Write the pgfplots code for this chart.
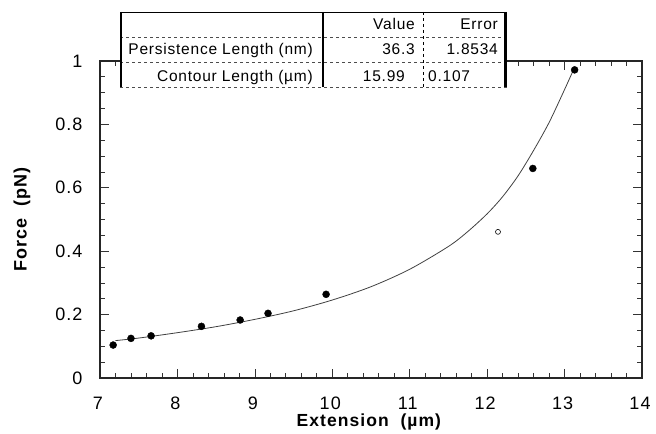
\documentclass[border=0pt]{standalone}
\usepackage{pgfplots}
\pgfplotsset{compat=1.18}
\usepackage{fontspec}
\setmainfont{Liberation Sans}
\begin{document}
\begin{tikzpicture}[x=1pt,y=1pt]
\begin{axis}[
    name=ax, at={(0,0)}, anchor=south west,
    scale only axis, width=542pt, height=317pt,
    xmin=7, xmax=14, ymin=0, ymax=1,
    xtick={7,...,14}, ytick={0,0.2,0.4,0.6,0.8,1},
    minor x tick num=4, minor y tick num=3,
    tick align=inside, major tick length=9pt, minor tick length=5pt,
    axis line style={line width=1.1pt, black!85},
    every tick/.style={black!80, line width=0.7pt},
    /pgf/number format/assume math mode=true,
    ticklabel style={font=\fontsize{18}{18}\selectfont\addfontfeature{LetterSpace=6}},
    xticklabel style={anchor=center, yshift=-25pt, xshift=-2pt},
    yticklabel style={anchor=east, xshift=-14pt},
    xlabel={Extension \ (µm)},
    xlabel style={at={(axis description cs:0.496,-0.139)}, anchor=center,
        font=\fontsize{17.5}{17.5}\selectfont\bfseries\addfontfeature{LetterSpace=6}},
    ylabel={Force \ (pN)},
    ylabel style={at={(axis description cs:-0.144,0.5)}, anchor=center,
        font=\fontsize{18}{18}\selectfont\bfseries\addfontfeature{LetterSpace=6}},
    clip=false,
]
% fitted curve
\addplot[smooth, black!75, line width=0.8pt] coordinates {
    (7.2,0.118) (7.5,0.126) (8.0,0.143) (8.5,0.162) (9.0,0.185)
    (9.5,0.212) (10.0,0.246) (10.5,0.288) (11.0,0.343) (11.5,0.415)
    (11.75,0.462) (12.0,0.518) (12.2,0.572) (12.4,0.638) (12.6,0.718)
    (12.8,0.806) (13.0,0.910) (13.12,0.975)
};
% measured points
\addplot[only marks, mark=*, mark size=3.5pt, black] coordinates {
    (7.17,0.104) (7.40,0.125) (7.66,0.133) (8.31,0.163) (8.81,0.183)
    (9.17,0.204) (9.92,0.264) (12.59,0.661) (13.13,0.972)
};
% excluded point
\addplot[only marks, mark=o, mark size=2.5pt, black, line width=0.6pt] coordinates {
    (12.14,0.461)
};
\end{axis}
% parameter table
\begin{scope}[shift={(ax.north west)}, font=\fontsize{15.5}{15.5}\selectfont\addfontfeature{LetterSpace=5}]
  \fill[white] (20,-26) rectangle (407,49);
  \draw[line width=0.8pt] (20,49) -- (407,49);
  \draw[dashed, black!70, line width=0.6pt] (20,24) -- (407,24);
  \draw[dashed, black!70, line width=0.6pt] (20,-1) -- (407,-1);
  \draw[dashed, black!70, line width=0.6pt] (20,-26) -- (407,-26);
  \draw[line width=2.5pt] (21,49) -- (21,-26);
  \draw[line width=3pt] (405,49) -- (405,-26);
  \draw[line width=2pt] (223,49) -- (223,-26);
  \draw[dashed, line width=0.7pt] (323,49) -- (323,-26);
  \node[anchor=base east, inner sep=0] at (315,31.7) {Value};
  \node[anchor=base east, inner sep=0] at (398,31.7) {Error};
  \node[anchor=base east, inner sep=0] at (213,6) {Persistence Length (nm)};
  \node[anchor=base east, inner sep=0] at (315,6) {36.3};
  \node[anchor=base east, inner sep=0] at (398,6) {1.8534};
  \node[anchor=base east, inner sep=0] at (213,-20.7) {Contour Length (µm)};
  \node[anchor=base east, inner sep=0] at (305,-20.7) {15.99};
  \node[anchor=base west, inner sep=0] at (328,-20.7) {0.107};
\end{scope}
\useasboundingbox (ax.south west) ++(-100,-51) rectangle ([shift={(14,61)}]ax.north east);
\end{tikzpicture}
\end{document}
